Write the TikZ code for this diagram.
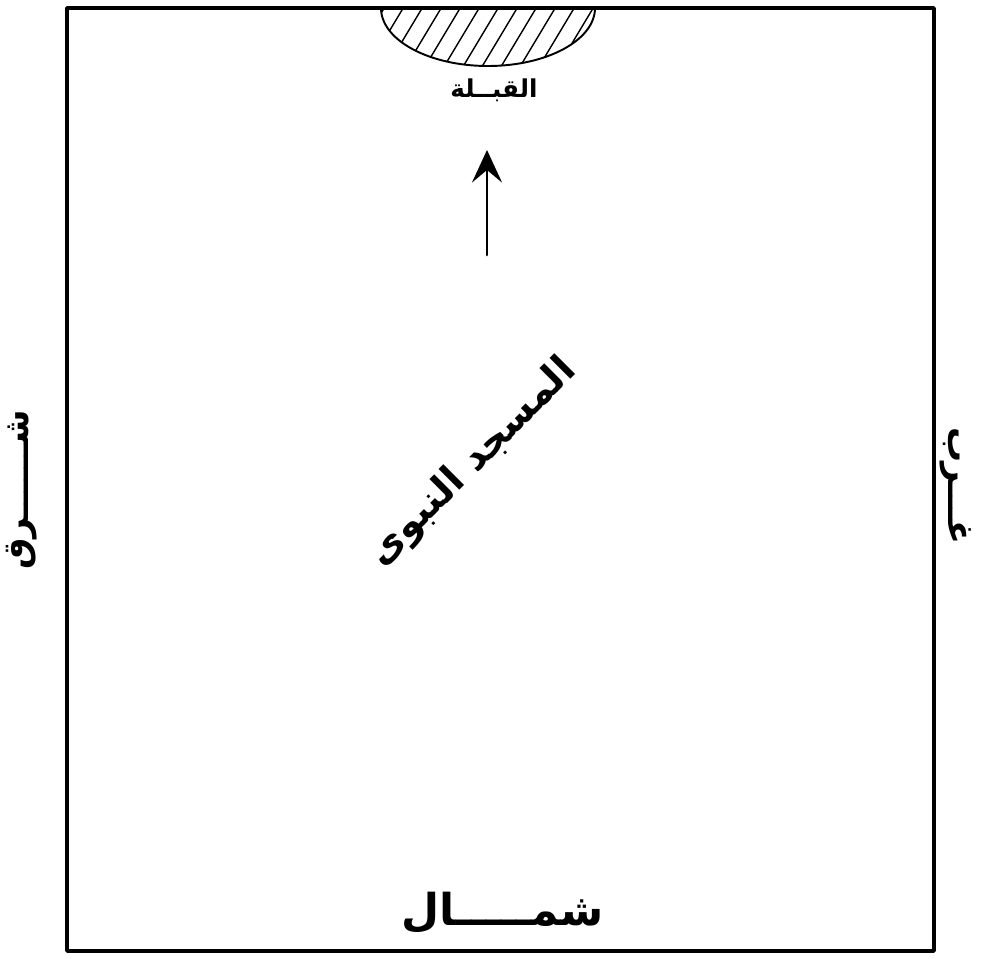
\documentclass[tikz,border=0pt]{standalone}
\usepackage{fontspec}
\newfontfamily\arabicfont[Script=Arabic]{DejaVu Sans}
\TeXXeTstate=1
\usetikzlibrary{arrows.meta}
\begin{document}
\begin{tikzpicture}[x=0.02cm,y=-0.02cm,line cap=round,line join=round,
  lbl/.style={font=\arabicfont\bfseries,inner sep=0pt}]
  \useasboundingbox (0,0) rectangle (981,958);
  \coordinate (A) at (67,8);
  \coordinate (B) at (934,8);
  \coordinate (C) at (934,951);
  \coordinate (D) at (67,951);
  \coordinate (Q) at (488,8);
  % qibla niche
  \begin{scope}
    \clip (381,8) rectangle (596,70);
    \clip (Q) ellipse [x radius=107, y radius=58];
    \foreach \i in {0,...,13}
      \draw[line width=0.8pt] (325+\i*19,75) -- (370+\i*19,0);
  \end{scope}
  \begin{scope}
    \clip (370,8) rectangle (606,75);
    \draw[line width=1.1pt] (Q) ellipse [x radius=107, y radius=58];
  \end{scope}
  \draw[line width=2pt] (A) -- (B) -- (C) -- (D) -- cycle;
  % arrow
  \coordinate (T) at (487,150);
  \coordinate (S) at (487,255);
  \draw[line width=1.6pt,-{Stealth[length=0.65cm,width=0.6cm,inset=0.25cm]}] (S) -- (T);
  \node[lbl,font=\arabicfont\bfseries\fontsize{14}{17}\selectfont] (qibla) at (494,90) {\beginR القبــلة\endR};
  \node[lbl,font=\arabicfont\bfseries\fontsize{22}{26}\selectfont,rotate=45] (masjid) at (473,463) {\beginR المسجد النبوى\endR};
  \node[lbl,font=\arabicfont\bfseries\fontsize{20}{24}\selectfont,rotate=90] (east) at (22,490) {\beginR شــــــرق\endR};
  \node[lbl,font=\arabicfont\bfseries\fontsize{20}{24}\selectfont,rotate=-90] (west) at (956,486) {\beginR غـــرب\endR};
  \node[lbl,font=\arabicfont\bfseries\fontsize{25}{28}\selectfont] (north) at (503,913) {\beginR شمـــــال\endR};
\end{tikzpicture}
\end{document}
